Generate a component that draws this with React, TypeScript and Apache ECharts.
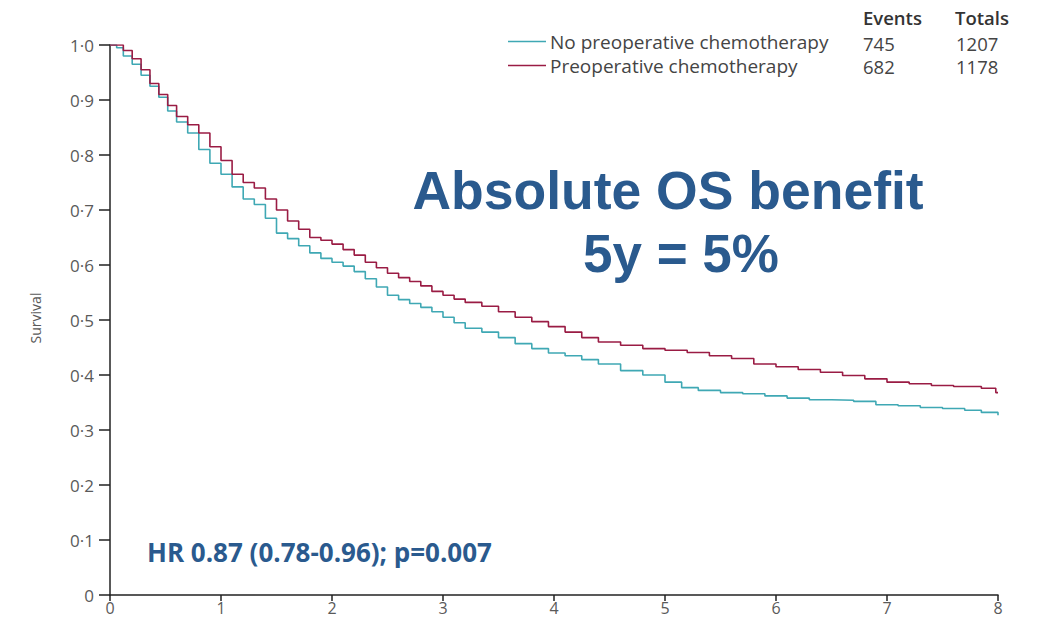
import React, { useEffect, useRef } from "react";
import * as echarts from "echarts";

// Kaplan–Meier overall survival, years since randomisation
const noPreopTimes = [0, 0.06, 0.12, 0.2, 0.28, 0.36, 0.44, 0.52, 0.6, 0.7, 0.8, 0.9, 1.0, 1.1, 1.2, 1.3, 1.4, 1.5, 1.6, 1.7, 1.8, 1.9, 2.0, 2.1, 2.2, 2.3, 2.4, 2.5, 2.6, 2.7, 2.8, 2.9, 3.0, 3.1, 3.2, 3.35, 3.5, 3.65, 3.8, 3.95, 4.1, 4.25, 4.4, 4.6, 4.8, 5.0, 5.15, 5.3, 5.5, 5.7, 5.9, 6.1, 6.3, 6.5, 6.7, 6.9, 7.1, 7.3, 7.5, 7.7, 7.85, 8.0];
const noPreopSurvival = [1.0, 0.995, 0.98, 0.965, 0.945, 0.925, 0.905, 0.88, 0.86, 0.84, 0.81, 0.785, 0.765, 0.742, 0.72, 0.71, 0.685, 0.658, 0.648, 0.635, 0.622, 0.612, 0.605, 0.598, 0.588, 0.575, 0.56, 0.545, 0.537, 0.53, 0.523, 0.515, 0.505, 0.495, 0.485, 0.478, 0.468, 0.457, 0.448, 0.44, 0.435, 0.428, 0.42, 0.408, 0.4, 0.387, 0.377, 0.372, 0.368, 0.366, 0.362, 0.358, 0.355, 0.354, 0.352, 0.346, 0.344, 0.341, 0.339, 0.336, 0.332, 0.327];

const preopTimes = [0, 0.08, 0.12, 0.2, 0.28, 0.36, 0.44, 0.52, 0.6, 0.7, 0.8, 0.9, 1.0, 1.1, 1.2, 1.3, 1.4, 1.5, 1.6, 1.7, 1.8, 1.9, 2.0, 2.1, 2.2, 2.3, 2.4, 2.5, 2.6, 2.7, 2.8, 2.9, 3.0, 3.1, 3.2, 3.35, 3.5, 3.65, 3.8, 3.95, 4.1, 4.25, 4.4, 4.6, 4.8, 5.0, 5.2, 5.4, 5.6, 5.8, 6.0, 6.2, 6.4, 6.6, 6.8, 7.0, 7.2, 7.4, 7.6, 7.85, 7.98, 8.0];
const preopSurvival = [1.0, 1.0, 0.99, 0.975, 0.955, 0.93, 0.91, 0.89, 0.87, 0.855, 0.84, 0.815, 0.79, 0.765, 0.75, 0.74, 0.72, 0.7, 0.68, 0.665, 0.65, 0.645, 0.638, 0.628, 0.618, 0.605, 0.595, 0.585, 0.577, 0.57, 0.562, 0.552, 0.545, 0.538, 0.532, 0.525, 0.515, 0.505, 0.497, 0.488, 0.478, 0.468, 0.46, 0.454, 0.448, 0.445, 0.441, 0.435, 0.43, 0.42, 0.415, 0.41, 0.405, 0.399, 0.393, 0.387, 0.384, 0.381, 0.379, 0.376, 0.368, 0.368];

const groupNames = ["No preoperative chemotherapy", "Preoperative chemotherapy"];
const groupEvents = ["745", "682"];
const groupTotals = ["1207", "1178"];
const groupColors = ["#3fa8b4", "#9a1c44"];

const headlineLines = ["Absolute OS benefit", "5y = 5%"];
const hrText = "HR 0.87 (0.78-0.96); p=0.007";

const zip = (t: number[], s: number[]) => t.map((v, i) => [v, s[i]]);

const fmtDot = (v: number) => (v === 0 ? "0" : v.toFixed(1).replace(".", "·"));

export default function App() {
  const ref = useRef<HTMLDivElement>(null);

  useEffect(() => {
    if (!ref.current) return;
    const chart = echarts.init(ref.current, undefined, { renderer: "svg" });
    const axisColor = "#222";
    const labelColor = "#5a5a5a";
    const blue = "#2a5a8e";
    const textFont = "'Open Sans', 'Noto Sans', sans-serif";
    const headFont = "'Liberation Sans', Arial, sans-serif";

    chart.setOption({
      animation: false,
      backgroundColor: "#ffffff",
      grid: { left: 110, right: 45, top: 45, bottom: 31, containLabel: false },
      legend: {
        orient: "vertical",
        left: 503,
        top: 27,
        itemWidth: 38,
        itemHeight: 12,
        itemGap: 5,
        icon: "path://M0,5 L38,5 L38,6.5 L0,6.5 Z",
        textStyle: { color: "#444", fontSize: 19, fontFamily: textFont, padding: [0, 0, 0, -1] },
        data: groupNames,
      },
      xAxis: {
        type: "value",
        min: 0,
        max: 8,
        interval: 1,
        axisLine: { lineStyle: { color: axisColor, width: 1.5 } },
        axisTick: { show: true, length: 6, lineStyle: { color: axisColor, width: 1.5 } },
        axisLabel: { color: labelColor, fontSize: 16, fontFamily: textFont, margin: 5 },
        splitLine: { show: false },
      },
      yAxis: {
        type: "value",
        min: 0,
        max: 1,
        interval: 0.1,
        axisLine: { show: true, lineStyle: { color: axisColor, width: 1.5 } },
        axisTick: { show: true, length: 11, lineStyle: { color: axisColor, width: 1.5 } },
        axisLabel: { color: labelColor, fontSize: 17, fontFamily: textFont, margin: 16, formatter: fmtDot },
        splitLine: { show: false },
      },
      series: [
        {
          name: groupNames[0],
          type: "line",
          step: "end",
          symbol: "none",
          data: zip(noPreopTimes, noPreopSurvival),
          lineStyle: { color: groupColors[0], width: 1.6 },
          itemStyle: { color: groupColors[0] },
          z: 3,
        },
        {
          name: groupNames[1],
          type: "line",
          step: "end",
          symbol: "none",
          data: zip(preopTimes, preopSurvival),
          lineStyle: { color: groupColors[1], width: 1.6 },
          itemStyle: { color: groupColors[1] },
          z: 4,
        },
      ],
      graphic: [
        {
          type: "text",
          x: 35,
          y: 318,
          rotation: Math.PI / 2,
          style: { text: "Survival", fill: labelColor, font: `14px ${textFont}`, align: "center", verticalAlign: "middle" },
        },
        {
          type: "text",
          x: 863,
          y: 17,
          style: { text: "Events", fill: "#333", font: `600 18.5px ${textFont}`, verticalAlign: "middle" },
        },
        {
          type: "text",
          x: 955,
          y: 17,
          style: { text: "Totals", fill: "#333", font: `600 18.5px ${textFont}`, verticalAlign: "middle" },
        },
        ...groupEvents.map((e, i) => ({
          type: "text",
          x: 863,
          y: 43 + i * 23,
          style: { text: e, fill: "#444", font: `18.5px ${textFont}`, verticalAlign: "middle" },
        })),
        ...groupTotals.map((e, i) => ({
          type: "text",
          x: 956,
          y: 43 + i * 23,
          style: { text: e, fill: "#444", font: `18.5px ${textFont}`, verticalAlign: "middle" },
        })),
        {
          type: "text",
          x: 668,
          y: 190,
          style: { text: headlineLines[0], fill: blue, font: `bold 53.5px ${headFont}`, align: "center", verticalAlign: "middle" },
        },
        {
          type: "text",
          x: 681,
          y: 253,
          style: { text: headlineLines[1], fill: blue, font: `bold 53px ${headFont}`, align: "center", verticalAlign: "middle" },
        },
        {
          type: "text",
          x: 147,
          y: 552,
          style: { text: hrText, fill: blue, font: `bold 26px ${textFont}`, verticalAlign: "middle" },
        },
      ],
    });

    return () => chart.dispose();
  }, []);

  return (
    <div
      ref={ref}
      style={{ position: "fixed", left: 0, top: 0, width: 1043, height: 626, background: "#fff" }}
    />
  );
}
